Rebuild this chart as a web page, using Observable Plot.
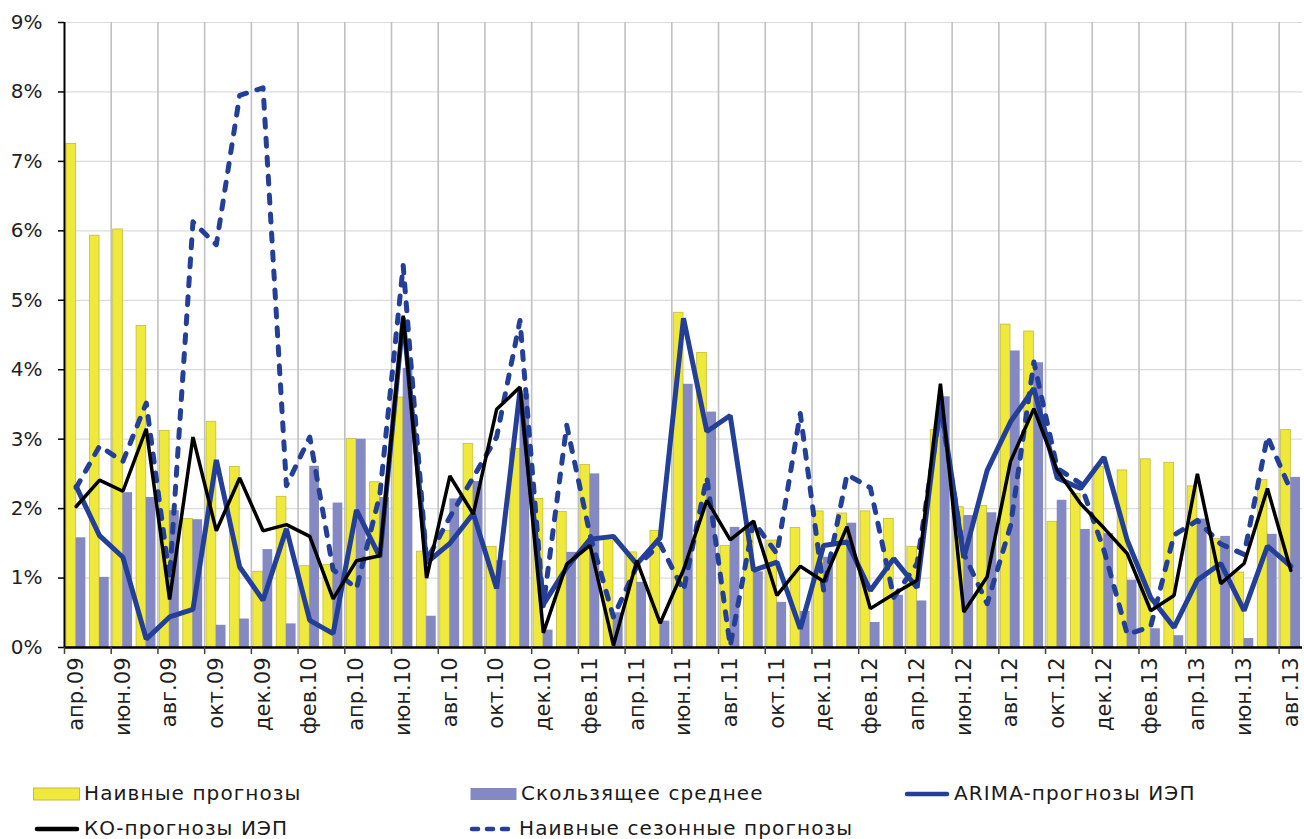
<!DOCTYPE html>
<html>
<head>
<meta charset="utf-8">
<script src="https://cdn.jsdelivr.net/npm/d3@7"></script>
<script src="https://cdn.jsdelivr.net/npm/@observablehq/plot@0.6"></script>
<style>
  html, body { margin: 0; padding: 0; background: #fff; }
  #wrap { position: relative; width: 1304px; height: 839px; overflow: hidden; }
  #legend { position: absolute; left: 0; top: 760px; width: 1304px; height: 79px;
            font-family: "DejaVu Sans", sans-serif; font-size: 20px; color: #1a1a1a; letter-spacing: 1.1px; }
  .item { position: absolute; height: 19px; line-height: 19px; display: flex; align-items: center; white-space: nowrap; }
  .item svg { margin-right: 3px; }
</style>
</head>
<body>
<div id="wrap">
  <div id="chart"></div>
  <div id="legend"></div>
</div>
<script>
// Categories (months)
const months = [
  "апр.09","май.09","июн.09","июл.09","авг.09","сен.09","окт.09","ноя.09","дек.09",
  "янв.10","фев.10","мар.10","апр.10","май.10","июн.10","июл.10","авг.10","сен.10","окт.10","ноя.10","дек.10",
  "янв.11","фев.11","мар.11","апр.11","май.11","июн.11","июл.11","авг.11","сен.11","окт.11","ноя.11","дек.11",
  "янв.12","фев.12","мар.12","апр.12","май.12","июн.12","июл.12","авг.12","сен.12","окт.12","ноя.12","дек.12",
  "янв.13","фев.13","мар.13","апр.13","май.13","июн.13","июл.13","авг.13"
];

// Series values, %
const naive = [7.25,5.93,6.02,4.63,3.12,1.85,3.25,2.60,1.09,2.17,1.17,1.19,3.00,2.38,3.60,1.38,1.68,2.93,1.45,2.86,2.14,
  1.95,2.63,1.56,1.37,1.68,4.82,4.24,1.46,1.70,1.54,1.72,1.96,1.93,1.96,1.85,1.45,3.13,2.02,2.04,4.65,4.55,1.81,2.21,2.60,
  2.55,2.71,2.66,2.32,1.56,1.08,2.41,3.13];
const movingAvg = [1.58,1.01,2.23,2.16,1.97,1.84,0.32,0.41,1.41,0.34,2.61,2.08,3.00,2.16,4.02,0.45,2.14,2.39,1.25,3.65,0.25,
  1.37,2.50,0.50,0.94,0.38,3.79,3.39,1.73,1.09,0.65,0.52,1.30,1.79,0.36,0.75,0.67,3.61,1.90,1.94,4.27,4.10,2.12,1.70,1.64,
  0.97,0.27,0.17,1.85,1.60,0.13,1.63,2.45];
const arima = [2.32,1.61,1.30,0.12,0.44,0.55,2.70,1.16,0.68,1.71,0.39,0.20,1.98,1.30,4.75,1.22,1.50,1.93,0.85,3.70,0.62,
  1.15,1.56,1.60,1.20,1.58,4.74,3.11,3.34,1.11,1.23,0.27,1.47,1.52,0.82,1.28,0.86,3.55,1.29,2.55,3.25,3.73,2.44,2.29,2.74,
  1.54,0.72,0.29,0.97,1.21,0.53,1.46,1.17];
const ko = [2.03,2.41,2.25,3.15,0.69,3.03,1.68,2.44,1.68,1.77,1.60,0.70,1.25,1.32,4.78,1.00,2.47,1.92,3.43,3.75,0.21,
  1.20,1.47,0.03,1.25,0.35,1.12,2.12,1.55,1.82,0.75,1.17,0.95,1.74,0.56,0.77,0.97,3.80,0.51,1.02,2.68,3.44,2.55,2.07,1.72,
  1.35,0.53,0.75,2.50,0.92,1.21,2.29,1.11];
const seasonal = [2.30,2.90,2.68,3.52,1.00,6.13,5.80,7.95,8.06,2.33,3.03,1.12,0.85,2.20,5.50,1.25,1.88,2.45,3.03,4.71,0.60,
  3.20,1.62,0.44,1.17,1.49,0.82,2.45,0.02,1.81,1.35,3.37,0.82,2.49,2.30,0.72,1.21,3.45,1.35,0.63,1.75,4.11,2.58,2.36,1.40,
  0.19,0.30,1.62,1.83,1.49,1.34,3.04,2.26];

// Tick values
const yTicks = [0,1,2,3,4,5,6,7,8,9];
const labeledMonths = months.filter((d, i) => i % 2 === 0);

// Series names / legend
const seriesNames = ["Наивные прогнозы","Скользящее среднее","ARIMA-прогнозы ИЭП","КО-прогнозы ИЭП","Наивные сезонные прогнозы"];

const colors = { naive: "#EEE93A", naiveStroke: "#C4BC3A", ma: "#8589C3", blue: "#243F97", black: "#000000" };

const data = months.map((m, i) => ({
  month: m, naive: naive[i], ma: movingAvg[i], arima: arima[i], ko: ko[i], seasonal: seasonal[i]
}));

const W = 1304, H = 760, ML = 64, MR = 2, MT = 22, MB = 113;
const bw = (W - ML - MR) / months.length;
const gridMonths = labeledMonths.slice(1);

const chart = Plot.plot({
  width: W, height: H,
  marginTop: MT, marginBottom: MB, marginLeft: ML, marginRight: MR,
  style: { fontFamily: "DejaVu Sans, sans-serif", fontSize: "20px", background: "white", color: "#1f1f1f" },
  x: { domain: months, padding: 0, round: false, axis: null, label: null },
  y: { domain: [0, 9], axis: null, label: null },
  marks: [
    Plot.ruleY(yTicks.slice(1), { stroke: "#dcdcdc", strokeWidth: 1.2 }),
    Plot.ruleX(gridMonths, { x: d => d, dx: -bw / 2, stroke: "#c0c0c0", strokeWidth: 1.6 }),
    Plot.barY(data, { x: "month", y: "naive", fill: colors.naive, stroke: colors.naiveStroke, strokeWidth: 0.8,
                      insetLeft: 2, insetRight: bw / 2 }),
    Plot.barY(data, { x: "month", y: "ma", fill: colors.ma, insetLeft: bw / 2, insetRight: 2 }),
    Plot.lineY(data, { x: "month", y: "arima", stroke: colors.blue, strokeWidth: 5, strokeLinejoin: "miter" }),
    Plot.lineY(data, { x: "month", y: "seasonal", stroke: colors.blue, strokeWidth: 5,
                       strokeDasharray: "8,11", strokeLinecap: "round" }),
    Plot.lineY(data, { x: "month", y: "ko", stroke: colors.black, strokeWidth: 3.5, strokeLinejoin: "miter" }),
    // axes lines
    Plot.ruleX([months[0]], { dx: -bw / 2, stroke: "black", strokeWidth: 2 }),
    Plot.ruleY([0], { stroke: "black", strokeWidth: 2.5 }),
    Plot.axisY({ ticks: yTicks, tickFormat: d => d + "%", tickSize: 6, tickPadding: 16, label: null,
                 fontSize: 20, stroke: "black", strokeWidth: 1.5, fill: "#1f1f1f" }),
    Plot.axisX({ ticks: labeledMonths, tickSize: 7, tickFormat: () => "", dx: -bw / 2, label: null,
                 stroke: "#404040", strokeWidth: 1.5 }),
    Plot.axisX({ ticks: labeledMonths, tickSize: 0, tickPadding: 10, tickRotate: -90, label: null,
                 fontSize: 21, fill: "#1f1f1f" })
  ]
});
document.getElementById("chart").appendChild(chart);

// Legend
const legendItems = [
  { name: seriesNames[0], type: "box", fill: colors.naive, stroke: colors.naiveStroke, left: 33, top: 24 },
  { name: seriesNames[1], type: "box", fill: colors.ma, stroke: "none", left: 470, top: 24 },
  { name: seriesNames[2], type: "line", stroke: colors.blue, dash: null, left: 903, top: 24 },
  { name: seriesNames[3], type: "line", stroke: colors.black, dash: null, left: 33, top: 59 },
  { name: seriesNames[4], type: "line", stroke: colors.blue, dash: "6,9", left: 468, top: 59 }
];
const legend = document.getElementById("legend");
for (const it of legendItems) {
  const div = document.createElement("div");
  div.className = "item";
  div.style.left = it.left + "px";
  div.style.top = it.top + "px";
  let sym;
  if (it.type === "box") {
    sym = `<svg width="48" height="14"><rect x="0.5" y="1" width="46" height="12" fill="${it.fill}" stroke="${it.stroke}" stroke-width="1"/></svg>`;
  } else {
    sym = `<svg width="48" height="14"><line x1="4" x2="44" y1="7" y2="7" stroke="${it.stroke}" stroke-width="4.5" stroke-linecap="round" ${it.dash ? `stroke-dasharray="${it.dash}"` : ""}/></svg>`;
  }
  div.innerHTML = sym + `<span>${it.name}</span>`;
  legend.appendChild(div);
}
</script>
</body>
</html>
